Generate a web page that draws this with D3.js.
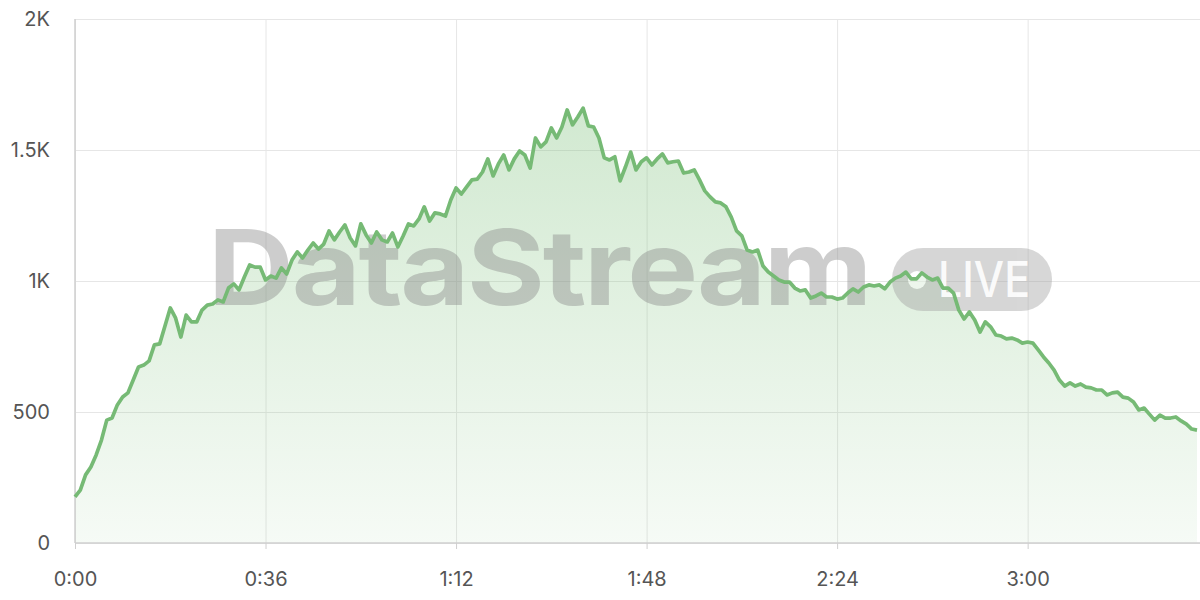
<!DOCTYPE html>
<html><head><meta charset="utf-8">
<script src="https://cdn.jsdelivr.net/npm/d3@7/dist/d3.min.js"></script>
<style>
html,body{margin:0;padding:0;background:#fff;}
svg{display:block;font-family:Inter,"Noto Sans",sans-serif;}
</style></head>
<body><svg id="c" width="1200" height="600"></svg>
<script>
// viewers per minute
const values = [176,202,260,290,336,393,469,477,527,557,573,622,672,679,695,756,760,828,897,859,786,870,844,844,889,908,912,928,920,973,989,966,1015,1061,1053,1053,1004,1019,1011,1050,1027,1080,1111,1088,1118,1145,1122,1141,1191,1157,1187,1214,1164,1134,1218,1176,1145,1187,1157,1149,1183,1130,1172,1218,1210,1237,1283,1229,1260,1256,1248,1309,1355,1332,1359,1386,1389,1416,1466,1401,1447,1481,1424,1466,1496,1481,1431,1546,1512,1531,1584,1546,1588,1653,1596,1626,1660,1592,1588,1546,1470,1462,1474,1382,1435,1492,1424,1455,1470,1443,1466,1485,1451,1455,1458,1412,1416,1424,1386,1344,1321,1302,1298,1283,1244,1191,1172,1118,1111,1118,1057,1034,1019,1004,996,996,973,962,966,935,943,954,939,939,931,935,954,970,958,977,985,981,985,970,996,1011,1019,1034,1008,1008,1031,1015,1004,1011,973,973,954,889,855,882,851,805,844,825,794,790,779,782,775,763,767,763,737,710,687,660,622,599,611,599,607,595,592,584,584,565,573,576,557,553,538,508,515,492,469,488,477,477,481,466,454,435,431];
const xTicks = [0,36,72,108,144,180];
const xTickLabels = ["0:00","0:36","1:12","1:48","2:24","3:00"];
const yTicks = [0,500,1000,1500,2000];
const yTickLabels = ["0","500","1K","1.5K","2K"];
const watermark = "DataStream";
const badge = "LIVE";

const svg = d3.select("#c");
const L = 75, R = 1197, T = 19, B = 543;
const x = d3.scaleLinear().domain([0, values.length-1]).range([L, R]);
const y = d3.scaleLinear().domain([0, 2000]).range([B, T]);

const defs = svg.append("defs");
const g = defs.append("linearGradient").attr("id","fillg").attr("x1",0).attr("y1",0).attr("x2",0).attr("y2",1);
g.append("stop").attr("offset","0%").attr("stop-color","#7cc07a").attr("stop-opacity",0.35);
g.append("stop").attr("offset","100%").attr("stop-color","#7cc07a").attr("stop-opacity",0.07);

// grid
svg.append("g").attr("transform",`translate(0,${B})`)
  .call(d3.axisBottom(x).tickValues(xTicks).tickSize(-(B-T)).tickFormat(""))
  .call(s=>{s.select(".domain").remove(); s.selectAll("line").attr("stroke","#e6e6e6").attr("stroke-width",1);});
svg.append("g").attr("transform",`translate(${L},0)`)
  .call(d3.axisLeft(y).tickValues(yTicks).tickSize(-(R-L+3)).tickFormat(""))
  .call(s=>{s.select(".domain").remove(); s.selectAll("line").attr("stroke","#e6e6e6").attr("stroke-width",1);});

// area
const area = d3.area().x((d,i)=>x(i)).y0(y(0)).y1(d=>y(d)).curve(d3.curveLinear);
svg.append("path").datum(values).attr("d",area).attr("fill","url(#fillg)");

// watermark
const wm = svg.append("g").attr("opacity",0.42);
wm.append("text").text(watermark).attr("x",208).attr("y",305)
  .attr("font-size",104).attr("font-weight",700).attr("fill","#8a8a8a")
  .attr("textLength",662).attr("lengthAdjust","spacingAndGlyphs").attr("letter-spacing",-2);
wm.append("rect").attr("x",892).attr("y",248).attr("width",160).attr("height",63).attr("rx",31).attr("fill","#a0a0a0");
wm.append("circle").attr("cx",917).attr("cy",280).attr("r",9).attr("fill","#fff");
svg.append("text").text(badge).attr("x",938).attr("y",297).attr("font-size",50).attr("font-weight",500)
  .attr("fill","#fff").attr("opacity",0.9).attr("textLength",92).attr("lengthAdjust","spacingAndGlyphs");

// axes lines
svg.append("line").attr("x1",L).attr("x2",L).attr("y1",T).attr("y2",B).attr("stroke","#cfcfcf").attr("stroke-width",1.5);
svg.append("line").attr("x1",L).attr("x2",1200).attr("y1",B).attr("y2",B).attr("stroke","#cfcfcf").attr("stroke-width",1.5);

// line
const line = d3.line().x((d,i)=>x(i)).y(d=>y(d));
svg.append("path").datum(values).attr("d",line).attr("fill","none").attr("stroke","#76ba75").attr("stroke-width",3.7).attr("stroke-linejoin","round");

// axis labels
const xa = svg.append("g").attr("transform",`translate(0,${B})`)
  .call(d3.axisBottom(x).tickValues(xTicks).tickSize(6).tickPadding(23).tickFormat((d,i)=>xTickLabels[i]));
xa.select(".domain").remove();
xa.selectAll("line").attr("stroke","#cfcfcf");
xa.selectAll("text").attr("font-size",20).attr("fill","#555").attr("font-family","Inter,'Noto Sans',sans-serif");
const ya = svg.append("g").attr("transform",`translate(${L},0)`)
  .call(d3.axisLeft(y).tickValues(yTicks).tickSize(0).tickPadding(25).tickFormat((d,i)=>yTickLabels[i]));
ya.select(".domain").remove();
ya.selectAll("text").attr("font-size",20).attr("fill","#555").attr("font-family","Inter,'Noto Sans',sans-serif");
</script></body></html>
